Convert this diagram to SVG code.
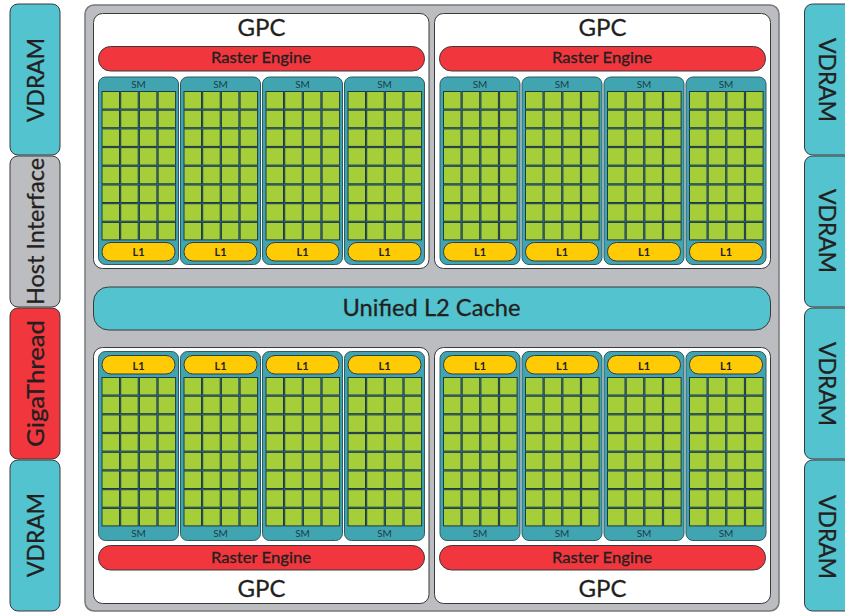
<svg xmlns="http://www.w3.org/2000/svg" width="845" height="612" viewBox="0 0 845 612">
<style>
text{font-family:"Lato","Noto Sans",sans-serif;fill:#231f20;text-anchor:middle;stroke:#231f20;stroke-width:.3}
.o{stroke:#3a3a3c;stroke-width:1}
.teal{fill:#52c3cf}.grey{fill:#bcbdc0}.red{fill:#f1373d}
.gpc{fill:#fff;stroke:#3a3a3c;stroke-width:1}
.sm{fill:#41a5b1;stroke:#2f5a62;stroke-width:1}
.cell{fill:#a6ce39;stroke:#1e3a42;stroke-width:1}
.l1{fill:#ffcb05;stroke:#3a3a3c;stroke-width:1}
.t{font-size:24px}
.side{font-size:23.500px}
.re{font-size:16px}
.s{font-size:10px;fill:#1d3d45;stroke:none}
.l{font-size:11px;stroke:none;font-weight:700}
</style>
<defs>
<g id="row"><rect class="cell" x="0" y="0" width="17.500" height="17.500"/><rect class="cell" x="18.700" y="0" width="17.500" height="17.500"/><rect class="cell" x="37.400" y="0" width="17.500" height="17.500"/><rect class="cell" x="56.100" y="0" width="17.500" height="17.500"/></g>
<g id="grid"><use href="#row" y="0"/><use href="#row" y="18.700"/><use href="#row" y="37.400"/><use href="#row" y="56.100"/><use href="#row" y="74.800"/><use href="#row" y="93.500"/><use href="#row" y="112.200"/><use href="#row" y="130.900"/></g>
<g id="smT"><rect class="sm" x="0" y="0" width="80" height="187.500" rx="7"/><use href="#grid" x="3.500" y="14.500"/><rect class="l1" x="3.500" y="165.500" width="73" height="18.500" rx="9"/><text class="s" x="40" y="11">SM</text><text class="l" x="40" y="179">L1</text></g>
<g id="smB"><rect class="sm" x="0" y="0" width="80" height="189" rx="7"/><use href="#grid" x="3.500" y="26"/><rect class="l1" x="3.500" y="4" width="73" height="18.500" rx="9"/><text class="s" x="40" y="185.500">SM</text><text class="l" x="40" y="18">L1</text></g>
</defs>
<g id="panel"><rect x="85" y="5" width="694" height="606" rx="9" class="grey" stroke="#77787b" stroke-width="1.500"/></g>

<g id="vdram-l1"><rect class="o teal" x="10" y="4" width="50" height="151" rx="8"/><text class="side" transform="translate(44,80) rotate(-90)" textLength="84" lengthAdjust="spacingAndGlyphs">VDRAM</text></g>
<g id="host"><rect class="o grey" x="10" y="156" width="50" height="151" rx="8"/><text class="side" transform="translate(44,231.500) rotate(-90)" textLength="147" lengthAdjust="spacingAndGlyphs">Host Interface</text></g>
<g id="gigathread"><rect class="o red" x="10" y="308" width="50" height="151" rx="8"/><text class="side" transform="translate(44,383.500) rotate(-90)" textLength="127" lengthAdjust="spacingAndGlyphs">GigaThread</text></g>
<g id="vdram-l2"><rect class="o teal" x="10" y="460" width="50" height="151" rx="8"/><text class="side" transform="translate(44,535) rotate(-90)" textLength="84" lengthAdjust="spacingAndGlyphs">VDRAM</text></g>

<g id="vdram-r1"><rect class="o teal" x="804.500" y="4" width="60" height="151" rx="8"/><text class="side" transform="translate(819,80) rotate(90)" textLength="84" lengthAdjust="spacingAndGlyphs">VDRAM</text></g>
<g id="vdram-r2"><rect class="o teal" x="804.500" y="156" width="60" height="151" rx="8"/><text class="side" transform="translate(819,231) rotate(90)" textLength="84" lengthAdjust="spacingAndGlyphs">VDRAM</text></g>
<g id="vdram-r3"><rect class="o teal" x="804.500" y="308" width="60" height="151" rx="8"/><text class="side" transform="translate(819,384) rotate(90)" textLength="84" lengthAdjust="spacingAndGlyphs">VDRAM</text></g>
<g id="vdram-r4"><rect class="o teal" x="804.500" y="460" width="60" height="151" rx="8"/><text class="side" transform="translate(819,537) rotate(90)" textLength="84" lengthAdjust="spacingAndGlyphs">VDRAM</text></g>

<g id="l2"><rect class="o teal" x="93.500" y="287" width="677" height="43" rx="15"/><text x="431.500" y="316" font-size="24" textLength="178" lengthAdjust="spacingAndGlyphs">Unified L2 Cache</text></g>

<g id="gpc-tl">
<rect class="gpc" x="93.500" y="13.500" width="335.500" height="255" rx="9"/>
<text class="t" x="261.500" y="36">GPC</text>
<rect class="o red" x="98.500" y="46.500" width="326" height="24.500" rx="12"/><text class="re" x="261" y="63" textLength="100" lengthAdjust="spacingAndGlyphs">Raster Engine</text>
<use href="#smT" x="98.500" y="77"/><use href="#smT" x="180.500" y="77"/><use href="#smT" x="262.500" y="77"/><use href="#smT" x="344.500" y="77"/>
</g>
<g id="gpc-tr">
<rect class="gpc" x="434.500" y="13.500" width="336" height="255" rx="9"/>
<text class="t" x="602.500" y="36">GPC</text>
<rect class="o red" x="439.500" y="46.500" width="326" height="24.500" rx="12"/><text class="re" x="602" y="63" textLength="100" lengthAdjust="spacingAndGlyphs">Raster Engine</text>
<use href="#smT" x="440" y="77"/><use href="#smT" x="522" y="77"/><use href="#smT" x="604" y="77"/><use href="#smT" x="686" y="77"/>
</g>
<g id="gpc-bl">
<rect class="gpc" x="93.500" y="347.500" width="335.500" height="256" rx="9"/>
<text class="t" x="261.500" y="597">GPC</text>
<rect class="o red" x="98.500" y="545.500" width="326" height="24.500" rx="12"/><text class="re" x="261" y="563" textLength="100" lengthAdjust="spacingAndGlyphs">Raster Engine</text>
<use href="#smB" x="98.500" y="351.500"/><use href="#smB" x="180.500" y="351.500"/><use href="#smB" x="262.500" y="351.500"/><use href="#smB" x="344.500" y="351.500"/>
</g>
<g id="gpc-br">
<rect class="gpc" x="434.500" y="347.500" width="336" height="256" rx="9"/>
<text class="t" x="602.500" y="597">GPC</text>
<rect class="o red" x="439.500" y="545.500" width="326" height="24.500" rx="12"/><text class="re" x="602" y="563" textLength="100" lengthAdjust="spacingAndGlyphs">Raster Engine</text>
<use href="#smB" x="440" y="351.500"/><use href="#smB" x="522" y="351.500"/><use href="#smB" x="604" y="351.500"/><use href="#smB" x="686" y="351.500"/>
</g>
<g id="connectors"/>
</svg>
